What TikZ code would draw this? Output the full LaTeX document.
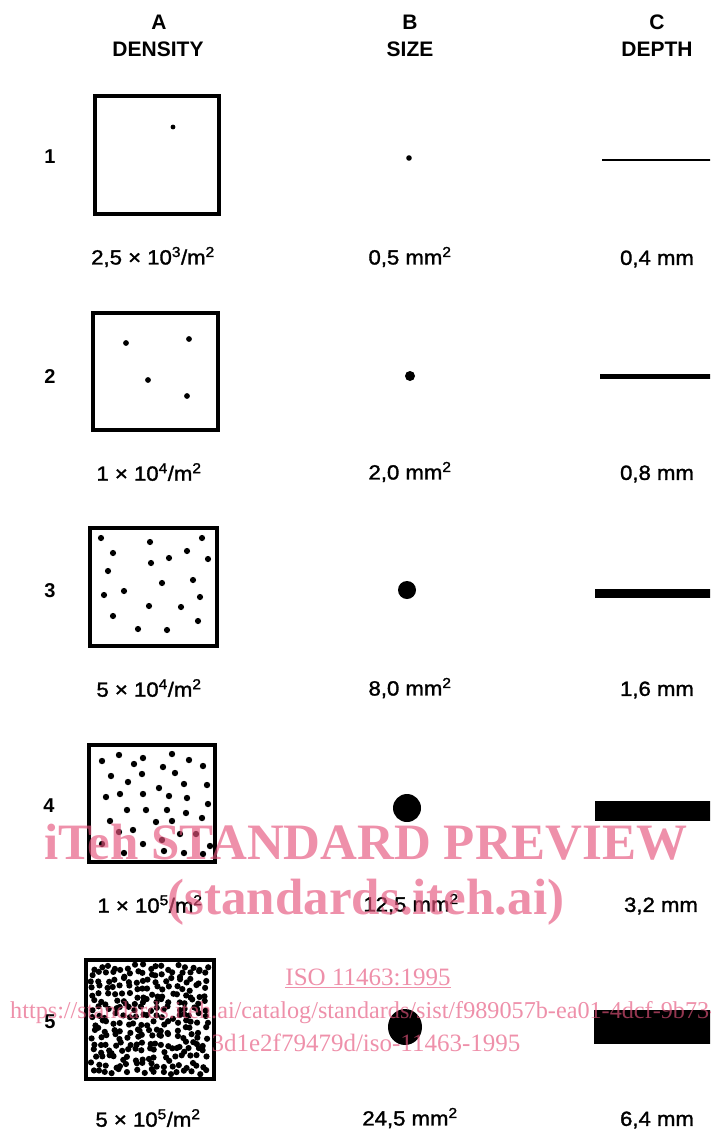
\documentclass[tikz,border=0pt]{standalone}
\usepackage{fontspec}
\setmainfont{Liberation Sans}
\newfontfamily\wmfont{Liberation Serif}
\newfontfamily\lblfont[FakeBold=1.5,FakeStretch=1.08]{Liberation Sans}
\definecolor{wmpink}{RGB}{229,84,124}
\tikzset{
  hdr/.style={font=\fontsize{21}{22}\selectfont\bfseries, inner sep=0pt},
  lbl/.style={font=\lblfont\fontsize{20.5}{22}\selectfont, inner sep=0pt},
  rowlbl/.style={font=\fontsize{20}{20}\selectfont\bfseries, inner sep=0pt},
  sq/.style={draw, line width=4.5pt, minimum width=#1, inner sep=0pt},
  spot/.style={fill=black},
  bar/.style={fill=black},
  wm/.style={text=wmpink, text opacity=0.65, inner sep=0pt},
}
\begin{document}
\begin{tikzpicture}[x=1pt,y=-1pt]
\useasboundingbox (0,0) rectangle (710,1135);
\clip (0,0) rectangle (710,1135);
% headers
\node[hdr] (hA) at (159,22) {A};
\node[hdr] (hAt) at (158,49) {DENSITY};
\node[hdr] (hB) at (410,22) {B};
\node[hdr] (hBt) at (410,49) {SIZE};
\node[hdr] (hC) at (657,22) {C};
\node[hdr] (hCt) at (657,49) {DEPTH};
% row labels
\node[rowlbl] (r1) at (50,157) {1};
\node[rowlbl] (r2) at (50,377) {2};
\node[rowlbl] (r3) at (50,591) {3};
\node[rowlbl] (r4) at (49,806) {4};
\node[rowlbl] (r5) at (50,1022) {5};
% squares
\node[sq=124pt, minimum height=118pt] (s1) at (157,155) {};
\node[sq=125pt, minimum height=117pt] (s2) at (155.5,371.5) {};
\node[sq=127pt, minimum height=118pt] (s3) at (153.5,587) {};
\node[sq=126pt, minimum height=117pt] (s4) at (152,803.5) {};
\node[sq=128pt, minimum height=119pt] (s5) at (150,1019.5) {};
% density dots
\fill[spot] (173,127) circle (2.4pt);
\foreach \p in {(126,343),(189,339),(148,380),(187,396)}
  \fill[spot] \p circle (2.9pt);
\foreach \p in {(101,538),(150,542),(202,538),(113,553),(187,551),(169,558),(151,563),(208,559),(108,571),(193,580),(162,583),(124,591),(104,595),(200,597),(149,606),(181,607),(113,616),(198,621),(138,629),(167,630)}
  \fill[spot] \p circle (3.1pt);
\foreach \p in {(102,761),(119,755),(134,764),(143,758),(172,754),(189,760),(203,766),(163,767),(111,776),(142,774),(175,773),(128,782),(159,788),(184,784),(207,785),(106,797),(120,794),(143,794),(169,796),(187,798),(208,804),(127,810),(146,810),(167,810),(186,813),(110,821),(156,822),(172,821),(202,818),(133,830),(119,832),(180,834),(196,834),(162,840),(102,844),(143,844),(210,846),(124,853),(164,851),(184,853),(203,854)}
  \fill[spot] \p circle (3.2pt);
\pgfmathsetseed{11}
\foreach \i in {0,...,16}{
  \foreach \j in {0,...,15}{
    \pgfmathsetmacro{\xx}{93.5+\i*7.0+6*(rnd-0.5)}
    \pgfmathsetmacro{\yy}{967+\j*7.0+6*(rnd-0.5)}
    \fill[spot] (\xx,\yy) circle (3.1pt);
  }
}
% size dots
\fill[spot] (409,158) circle (2.8pt);
\fill[spot] (410,376) circle (5pt);
\fill[spot] (407,590) circle (9pt);
\fill[spot] (407,808) circle (14pt);
\fill[spot] (405,1027) ellipse (17pt and 18pt);
% depth bars
\fill[bar] (602,158.8) rectangle (712,161);
\fill[bar] (600,374) rectangle (712,378.5);
\fill[bar] (595,589) rectangle (712,597.5);
\fill[bar] (595,801) rectangle (712,821);
\fill[bar] (594,1010) rectangle (712,1044);
% value labels
\node[lbl] (a1) at (153,257) {2,5 × 10\textsuperscript{3}/m\textsuperscript{2}};
\node[lbl] (b1) at (410,257) {0,5 mm\textsuperscript{2}};
\node[lbl] (c1) at (657,259) {0,4 mm};
\node[lbl] (a2) at (149,472) {1 × 10\textsuperscript{4}/m\textsuperscript{2}};
\node[lbl] (b2) at (410,472) {2,0 mm\textsuperscript{2}};
\node[lbl] (c2) at (657,474) {0,8 mm};
\node[lbl] (a3) at (149,688) {5 × 10\textsuperscript{4}/m\textsuperscript{2}};
\node[lbl] (b3) at (410,688) {8,0 mm\textsuperscript{2}};
\node[lbl] (c3) at (657,690) {1,6 mm};
\node[lbl] (a4) at (150,904) {1 × 10\textsuperscript{5}/m\textsuperscript{2}};
\node[lbl] (b4) at (411,904) {12,5 mm\textsuperscript{2}};
\node[lbl] (c4) at (661,906) {3,2 mm};
\node[lbl] (a5) at (148,1118) {5 × 10\textsuperscript{5}/m\textsuperscript{2}};
\node[lbl] (b5) at (410,1118) {24,5 mm\textsuperscript{2}};
\node[lbl] (c5) at (657,1120) {6,4 mm};
% watermark
\node[wm, font=\wmfont\bfseries\fontsize{51}{51}\selectfont] (w1) at (366,842) {iTeh STANDARD PREVIEW};
\node[wm, font=\wmfont\bfseries\fontsize{51}{51}\selectfont] (w2) at (366,902) {(standards.iteh.ai)};
\node[wm, font=\wmfont\fontsize{25}{25}\selectfont] (w3) at (368,978) {\underline{ISO 11463:1995}};
\node[wm, font=\wmfont\fontsize{24.2}{25}\selectfont, anchor=west] (w4) at (10,1013) {https://standards.iteh.ai/catalog/standards/sist/f989057b-ea01-4dcf-9b73-};
\node[wm, font=\wmfont\fontsize{25}{25}\selectfont] (w5) at (366,1043) {3d1e2f79479d/iso-11463-1995};
\end{tikzpicture}
\end{document}
